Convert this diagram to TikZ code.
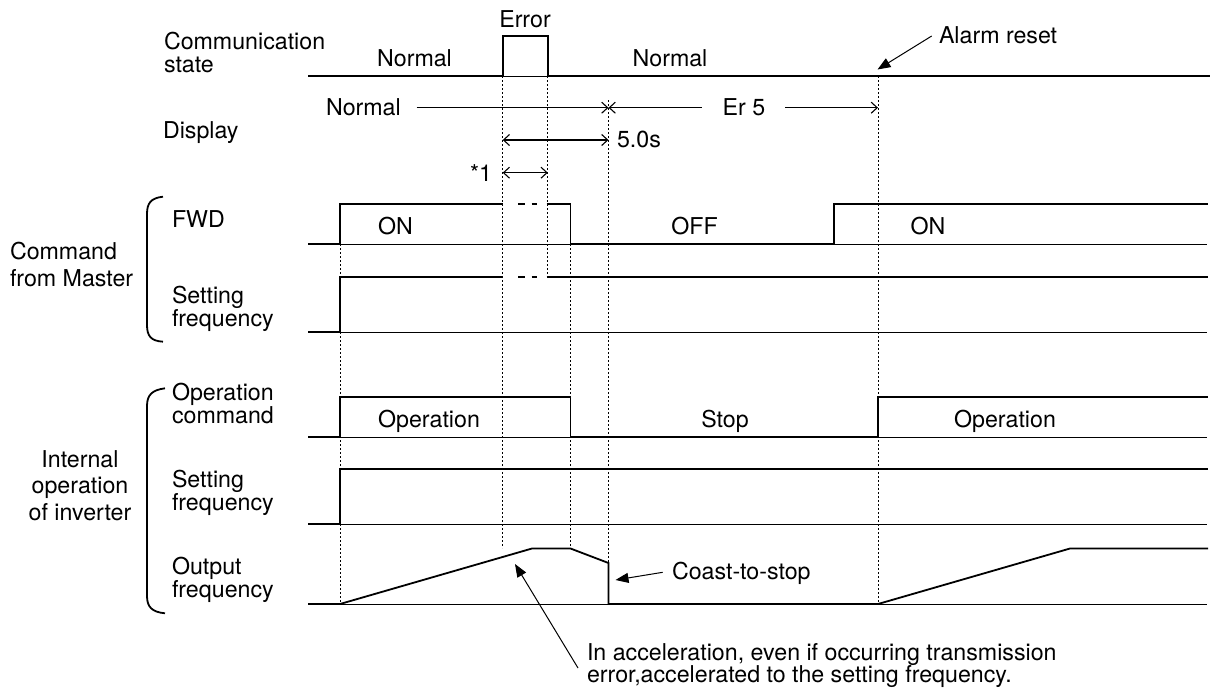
\documentclass[tikz,border=0pt]{standalone}
\usepackage{fontspec}
\setmainfont{TeX Gyre Heros}
\usetikzlibrary{arrows.meta}
\begin{document}
\begin{tikzpicture}[x=1pt,y=-1pt,
  every node/.style={inner sep=0pt, outer sep=0pt, font=\fontsize{23.2}{23.2}\selectfont},
  lbl/.style={anchor=base west},
  lbltwo/.style={anchor=north west, align=left, font=\fontsize{23.2}{20}\selectfont},
  ctr/.style={anchor=base},
  sig/.style={line width=1.8pt, line join=miter, line cap=butt},
  baseln/.style={line width=0.7pt},
  guide/.style={line width=0.8pt, dash pattern=on 2pt off 2pt},
  brace/.style={line width=1.8pt},
  dimar/.style={line width=1.1pt, arrows={Straight Barb[length=6pt,width=11pt]-Straight Barb[length=6pt,width=11pt]}},
  endar/.style={line width=1.1pt, arrows={-Straight Barb[length=6pt,width=11pt]}},
  startar/.style={line width=1.1pt, arrows={Straight Barb[length=6pt,width=11pt]-}},
  callout/.style={line width=1pt, arrows={-Triangle[length=13pt,width=10pt]}}
]
\useasboundingbox (0,0) rectangle (1212,691);

% ---------- labels on the left
\node[lbl] (comm1) at (164,49) {Communication};
\node[lbl] (comm2) at (164,72) {state};
\node[lbl] (disp) at (163,138) {Display};
\node[lbl] (cmd1) at (10,259) {Command};
\node[lbl] (cmd2) at (10,286) {from Master};
\node[ctr] (int1) at (80,467) {Internal};
\node[ctr] (int2) at (80,493) {operation};
\node[ctr] (int3) at (80,520) {of inverter};
\node[lbl] (fwd) at (172,227) {FWD};
\node[lbltwo] (sf1) at (172,286) {Setting\\frequency};
\node[lbltwo] (oc) at (172,383) {Operation\\command};
\node[lbltwo] (sf2) at (172,470) {Setting\\frequency};
\node[lbltwo] (of) at (172,557) {Output\\frequency};

% braces
\draw[brace] (163,196.7) .. controls (151,198) and (147,203) .. (147,214) -- (147,325) .. controls (147,336) and (151,341) .. (163,341.7);
\draw[brace] (165,388.3) .. controls (152,390) and (147,395) .. (147,406) -- (147,596) .. controls (147,607) and (152,612) .. (165,613.3);

% ---------- guide (dotted) lines
\draw[guide] (340,244) -- (340,604);
\draw[guide] (502.7,76) -- (502.7,548);
\draw[guide] (547.8,76) -- (547.8,277);
\draw[guide] (570.5,244) -- (570.5,548);
\draw[guide] (608.5,100) -- (608.5,563);
\draw[guide] (878,76) -- (878,604);

% ---------- communication state
\draw[baseln] (502.7,76) -- (547.8,76);
\draw[sig] (308,76) -- (502.7,76) -- (502.7,36) -- (547.8,36) -- (547.8,76) -- (1210,76);
\node[ctr] (err) at (525,27) {Error};
\node[ctr] (nrm1) at (414.5,66) {Normal};
\node[ctr] (nrm2) at (670,66) {Normal};
\node[lbl] (alarm) at (939,43.5) {Alarm reset};
\coordinate (alarmtail) at (931.7,36);
\coordinate (alarmtip) at (877.5,69.5);
\draw[callout] (alarmtail) -- (alarmtip);

% ---------- display
\node[lbl] (dn) at (326,115) {Normal};
\node[ctr] (er5) at (744,115) {Er 5};
\coordinate (dA) at (416.7,107.7);
\coordinate (dX) at (608.5,107.7);
\coordinate (dB) at (701.7,107.7);
\coordinate (dC) at (785,107.7);
\coordinate (dR) at (878,107.7);
\draw[endar] (dA) -- (dX);
\draw[startar] (dX) -- (dB);
\draw[endar] (dC) -- (dR);
\coordinate (t1) at (502.7,140);
\coordinate (t2) at (608.5,140);
\draw[dimar] (t1) -- (t2);
\node[lbl] (t5) at (617,147) {5.0s};
\coordinate (s1) at (502.7,172.7);
\coordinate (s2) at (547.8,172.7);
\draw[dimar] (s1) -- (s2);
\node[lbl] (star) at (470,181) {*1};

% ---------- FWD
\draw[baseln] (308,244) -- (1207,244);
\draw[sig] (308,244) -- (340,244) -- (340,204) -- (503.3,204);
\draw[sig] (518.3,204) -- (525,204);
\draw[sig] (531.7,204) -- (537,204);
\draw[sig] (546.7,204) -- (570.5,204) -- (570.5,244) -- (834,244) -- (834,204) -- (1208,204);
\node[ctr] (on1) at (395.5,234) {ON};
\node[ctr] (off) at (694.5,234) {OFF};
\node[ctr] (on2) at (928,234) {ON};

% ---------- setting frequency (command)
\draw[baseln] (308,332) -- (1207,332);
\draw[sig] (308,332) -- (340,332) -- (340,277) -- (503.3,277);
\draw[sig] (518.3,277) -- (525,277);
\draw[sig] (531.7,277) -- (537,277);
\draw[sig] (546.7,277) -- (1208,277);

% ---------- operation command
\draw[baseln] (308,437) -- (1207,437);
\draw[sig] (308,437) -- (340,437) -- (340,397) -- (570.5,397) -- (570.5,437) -- (878,437) -- (878,397) -- (1208,397);
\node[ctr] (op1) at (429,427) {Operation};
\node[ctr] (stop) at (725,427) {Stop};
\node[ctr] (op2) at (1005,427) {Operation};

% ---------- internal setting frequency
\draw[baseln] (308,524) -- (1207,524);
\draw[sig] (308,524) -- (340,524) -- (340,469) -- (1208,469);

% ---------- output frequency
\draw[baseln] (308,604) -- (1207,604);
\draw[sig] (308,604) -- (340,604) -- (532,548.5) -- (570.5,548.5) -- (608.5,563) -- (608.5,604) -- (878,604) -- (1070,548.5) -- (1208,548.5);
\node[lbl] (coast) at (672,579) {Coast-to-stop};
\coordinate (coasttail) at (662.7,572.3);
\coordinate (coasttip) at (615.5,580);
\draw[callout] (coasttail) -- (coasttip);

\node[lbl] (note1) at (587,660) {In acceleration, even if occurring transmission};
\node[lbl] (note2) at (587,682) {error,accelerated to the setting frequency.};
\coordinate (notetail) at (578,668);
\coordinate (notetip) at (515,564);
\draw[callout] (notetail) -- (notetip);
\end{tikzpicture}
\end{document}
